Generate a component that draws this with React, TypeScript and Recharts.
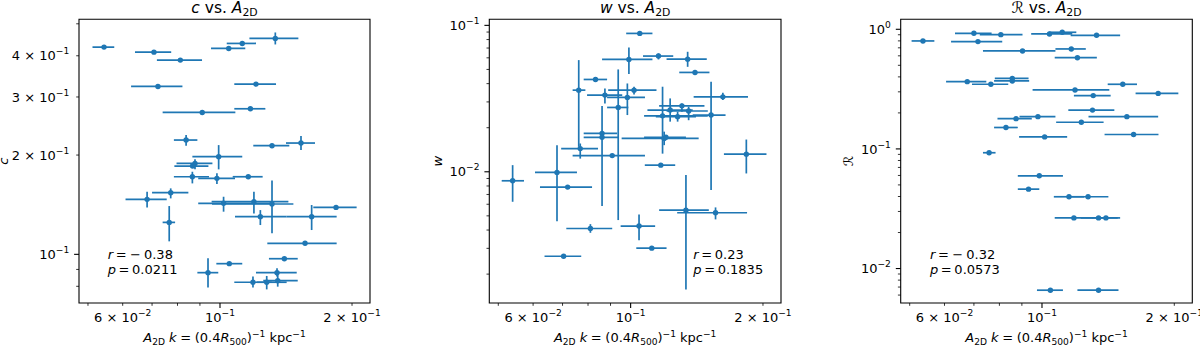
import { ScatterChart, Scatter, XAxis, YAxis, ErrorBar, ReferenceArea } from "recharts";

const BLUE = "#1f77b4";
const FONT = "'DejaVu Sans', sans-serif";

// shared x axis: A2D k, log scale
const xDomain = [0.0477, 0.2198];
const xTicks = [0.05, 0.06, 0.07, 0.08, 0.09, 0.1, 0.2];
const xTickLabels = ["", "6 × 10^−2", "", "", "", "10^−1", "2 × 10^−1"];

// panel 1: c vs A2D
const cX = [0.0544, 0.0707, 0.0812, 0.1047, 0.1124, 0.1337, 0.0722, 0.1208, 0.0911, 0.1173, 0.0837, 0.1314, 0.153, 0.0993, 0.0877, 0.0866, 0.0865, 0.0984, 0.116, 0.0772, 0.0682, 0.1019, 0.1195, 0.1314, 0.0766, 0.1236, 0.1618, 0.1839, 0.1563, 0.1402, 0.105, 0.0939, 0.1349, 0.1189, 0.1278, 0.1354];
const cXLo = [0.0512, 0.064, 0.0718, 0.0954, 0.1036, 0.1167, 0.0627, 0.1078, 0.074, 0.1078, 0.0785, 0.1191, 0.1414, 0.0865, 0.0796, 0.0787, 0.0785, 0.0892, 0.1069, 0.07, 0.0609, 0.0892, 0.0957, 0.0959, 0.074, 0.1082, 0.1419, 0.1632, 0.1282, 0.1293, 0.0981, 0.0888, 0.1208, 0.1078, 0.1212, 0.1255];
const cXHi = [0.0574, 0.0774, 0.091, 0.1142, 0.1208, 0.1509, 0.0821, 0.1342, 0.1084, 0.1269, 0.0888, 0.1439, 0.1647, 0.1124, 0.0961, 0.0941, 0.0944, 0.1082, 0.1251, 0.0847, 0.0756, 0.1323, 0.1432, 0.147, 0.079, 0.1419, 0.1845, 0.2049, 0.1845, 0.1504, 0.1124, 0.0991, 0.1496, 0.1312, 0.1419, 0.1504];
const cY = [0.4249, 0.4103, 0.3881, 0.421, 0.436, 0.4514, 0.3229, 0.3282, 0.2693, 0.2763, 0.2221, 0.2135, 0.2175, 0.1977, 0.1887, 0.1852, 0.1719, 0.17, 0.1719, 0.1538, 0.1468, 0.1428, 0.1444, 0.1421, 0.125, 0.1301, 0.1301, 0.1388, 0.108, 0.097, 0.0937, 0.088, 0.088, 0.0823, 0.0823, 0.0832];
const cYLo = [0.4249, 0.4103, 0.3881, 0.414, 0.436, 0.4329, 0.3229, 0.3282, 0.2693, 0.2763, 0.2135, 0.2135, 0.2071, 0.181, 0.181, 0.1852, 0.1641, 0.1634, 0.1719, 0.1478, 0.1388, 0.1347, 0.1331, 0.1158, 0.1095, 0.1227, 0.1185, 0.1388, 0.108, 0.097, 0.0937, 0.0794, 0.0856, 0.0794, 0.0783, 0.0798];
const cYHi = [0.4249, 0.4103, 0.3881, 0.428, 0.436, 0.4707, 0.3229, 0.3282, 0.2693, 0.2763, 0.2299, 0.2135, 0.2283, 0.2144, 0.1944, 0.1852, 0.178, 0.176, 0.1719, 0.1585, 0.1549, 0.1495, 0.1549, 0.1676, 0.1401, 0.1362, 0.1411, 0.1388, 0.108, 0.097, 0.0937, 0.0973, 0.0907, 0.0856, 0.086, 0.0866];
const cYDomain = [0.0712, 0.516];
const cYTicks = [0.08, 0.09, 0.1, 0.2, 0.3, 0.4, 0.5];
const cYTickLabels = ["", "", "10^−1", "2 × 10^−1", "3 × 10^−1", "4 × 10^−1", ""];

// panel 2: w vs A2D
const wX = [0.1049, 0.1157, 0.0991, 0.1348, 0.1401, 0.0832, 0.0762, 0.1018, 0.0874, 0.0983, 0.0937, 0.1621, 0.1524, 0.1182, 0.123, 0.1308, 0.1279, 0.1355, 0.1192, 0.1203, 0.0861, 0.0861, 0.0768, 0.0908, 0.1171, 0.1833, 0.068, 0.0719, 0.0539, 0.081, 0.1045, 0.1117, 0.0704, 0.1336, 0.156];
const wXLo = [0.0977, 0.1067, 0.0861, 0.1207, 0.129, 0.0782, 0.0738, 0.0889, 0.0796, 0.0884, 0.0884, 0.1391, 0.1384, 0.1073, 0.1092, 0.1161, 0.1141, 0.1207, 0.0954, 0.1073, 0.0782, 0.0782, 0.0695, 0.0738, 0.1077, 0.163, 0.0606, 0.0622, 0.0509, 0.0714, 0.0949, 0.103, 0.0637, 0.1161, 0.1276];
const wXHi = [0.1121, 0.125, 0.1121, 0.149, 0.1511, 0.0884, 0.0789, 0.1145, 0.0957, 0.1078, 0.0988, 0.1849, 0.1644, 0.1498, 0.1384, 0.1472, 0.1408, 0.1498, 0.1428, 0.1336, 0.0932, 0.0937, 0.0843, 0.1078, 0.1263, 0.2037, 0.0755, 0.0817, 0.0572, 0.0908, 0.1137, 0.1207, 0.0772, 0.1506, 0.184];
const wY = [0.0881, 0.0617, 0.0585, 0.0588, 0.0477, 0.0427, 0.0361, 0.0361, 0.0334, 0.0322, 0.0275, 0.0325, 0.0244, 0.0241, 0.0264, 0.0282, 0.0238, 0.026, 0.0169, 0.0172, 0.0183, 0.0172, 0.0144, 0.0129, 0.0111, 0.0132, 0.0099, 0.00786, 0.00868, 0.0041, 0.00426, 0.00301, 0.00265, 0.00547, 0.00525];
const wYLo = [0.0881, 0.0585, 0.0465, 0.0521, 0.0477, 0.0427, 0.0148, 0.0337, 0.0293, 0.0244, 0.00468, 0.0309, 0.0075, 0.0133, 0.022, 0.0257, 0.022, 0.0225, 0.0152, 0.0172, 0.0183, 0.00583, 0.0123, 0.0129, 0.0111, 0.00974, 0.0046, 0.00786, 0.00624, 0.00383, 0.00341, 0.00301, 0.00265, 0.00157, 0.00473];
const wYHi = [0.0881, 0.0643, 0.0707, 0.066, 0.0477, 0.0427, 0.0579, 0.0381, 0.0371, 0.0401, 0.05, 0.0346, 0.0412, 0.0381, 0.0317, 0.0293, 0.0257, 0.0278, 0.0188, 0.0172, 0.0183, 0.0281, 0.0156, 0.0129, 0.0111, 0.0166, 0.0152, 0.00786, 0.0111, 0.00439, 0.00511, 0.00301, 0.00265, 0.00949, 0.00571];
const wYDomain = [0.00127, 0.11];
const wYTicks = [0.002, 0.003, 0.004, 0.005, 0.006, 0.007, 0.008, 0.009, 0.01, 0.02, 0.03, 0.04, 0.05, 0.06, 0.07, 0.08, 0.09, 0.1];
const wYTickLabels = ["", "", "", "", "", "", "", "", "10^−2", "", "", "", "", "", "", "", "", "10^−1"];

// panel 3: R vs A2D (no y errors)
const rX = [0.0536, 0.07, 0.0806, 0.0715, 0.0903, 0.104, 0.1112, 0.1331, 0.1166, 0.1204, 0.0676, 0.0765, 0.0856, 0.0856, 0.1189, 0.1527, 0.1308, 0.1838, 0.1303, 0.0873, 0.0979, 0.156, 0.1229, 0.0828, 0.1014, 0.1616, 0.0758, 0.0986, 0.0932, 0.1152, 0.1273, 0.1182, 0.1345, 0.1398, 0.1045, 0.1345];
const rXLo = [0.0505, 0.0634, 0.0722, 0.0621, 0.0734, 0.0945, 0.1036, 0.1162, 0.1073, 0.1069, 0.0605, 0.0693, 0.0781, 0.0778, 0.0952, 0.1411, 0.1182, 0.1633, 0.1148, 0.0792, 0.0889, 0.1276, 0.1077, 0.0778, 0.0887, 0.1388, 0.0734, 0.0881, 0.0881, 0.1064, 0.1152, 0.1069, 0.1225, 0.1303, 0.0974, 0.1204];
const rXHi = [0.0569, 0.0768, 0.0903, 0.0812, 0.1073, 0.1172, 0.1197, 0.1506, 0.1258, 0.1333, 0.0747, 0.0838, 0.0932, 0.0935, 0.1423, 0.1645, 0.1433, 0.2043, 0.1461, 0.0948, 0.1073, 0.1838, 0.1381, 0.0881, 0.1141, 0.1841, 0.0784, 0.1116, 0.0986, 0.1247, 0.1416, 0.1308, 0.1487, 0.1506, 0.1116, 0.1493];
const rY = [0.799, 0.926, 0.902, 0.789, 0.659, 0.914, 0.944, 0.891, 0.685, 0.579, 0.365, 0.347, 0.389, 0.37, 0.311, 0.347, 0.279, 0.291, 0.211, 0.179, 0.186, 0.186, 0.167, 0.151, 0.126, 0.132, 0.0929, 0.0596, 0.0461, 0.0398, 0.0398, 0.0265, 0.0265, 0.0265, 0.00659, 0.00659];
const rYDomain = [0.00515, 1.212];
const rYTicks = [0.006, 0.007, 0.008, 0.009, 0.01, 0.02, 0.03, 0.04, 0.05, 0.06, 0.07, 0.08, 0.09, 0.1, 0.2, 0.3, 0.4, 0.5, 0.6, 0.7, 0.8, 0.9, 1];
const rYTickLabels = ["", "", "", "", "10^−2", "", "", "", "", "", "", "", "", "10^−1", "", "", "", "", "", "", "", "", "10^0"];

type Row = { x: number; y: number; xErr: number[]; yErr: number[] };

function buildRows(x: number[], xLo: number[], xHi: number[], y: number[], yLo: number[], yHi: number[]): Row[] {
  return x.map((v, i) => ({
    x: v,
    y: y[i],
    xErr: [v - xLo[i], xHi[i] - v],
    yErr: [y[i] - yLo[i], yHi[i] - y[i]],
  }));
}

const isDecade = (v: number) => Math.abs(Math.log10(v) - Math.round(Math.log10(v))) < 1e-6;

function labelFor(ticks: number[], labels: string[], v: number) {
  const i = ticks.findIndex((t) => Math.abs(t - v) / t < 1e-6);
  return i >= 0 ? labels[i] : "";
}

function tickText(label: string) {
  const [base, exp] = label.split("^");
  return (
    <>
      <tspan>{base}</tspan>
      {exp !== undefined && (
        <tspan dy={-6} fontSize={9.1}>
          {exp}
        </tspan>
      )}
    </>
  );
}

function makeXTick(ticks: number[], labels: string[]) {
  return (props: any) => {
    const { x, y, payload } = props;
    const v = payload.value;
    const major = isDecade(v);
    const label = labelFor(ticks, labels, v);
    return (
      <g>
        <line x1={x} x2={x} y1={y} y2={y + (major ? 4.9 : 2.8)} stroke="#000" strokeWidth={major ? 1.1 : 0.8} />
        {label && (
          <text x={x} y={y + 18.5} textAnchor="middle" fontSize={13} fontFamily={FONT} fill="#000">
            {tickText(label)}
          </text>
        )}
      </g>
    );
  };
}

function makeYTick(ticks: number[], labels: string[]) {
  return (props: any) => {
    const { x, y, payload } = props;
    const v = payload.value;
    const major = isDecade(v);
    const label = labelFor(ticks, labels, v);
    return (
      <g>
        <line x1={x} x2={x - (major ? 4.9 : 2.8)} y1={y} y2={y} stroke="#000" strokeWidth={major ? 1.1 : 0.8} />
        {label && (
          <text x={x - 9.8} y={y + 4.6} textAnchor="end" fontSize={13} fontFamily={FONT} fill="#000">
            {tickText(label)}
          </text>
        )}
      </g>
    );
  };
}

type Seg = { t: string; it?: boolean; sh?: number; dx?: number; small?: boolean };

function MathText({ x, y, size, anchor = "start", segs, transform }: { x: number; y: number; size: number; anchor?: string; segs: Seg[]; transform?: string }) {
  let cur = 0;
  return (
    <text x={x} y={y} fontSize={size} textAnchor={anchor as any} fontFamily={FONT} fill="#000" transform={transform}>
      {segs.map((s, i) => {
        const sh = s.sh ?? 0;
        const dy = sh - cur;
        cur = sh;
        return (
          <tspan key={i} dx={s.dx} dy={dy || undefined} fontStyle={s.it ? "italic" : undefined} fontSize={s.small ? size * 0.7 : undefined}>
            {s.t}
          </tspan>
        );
      })}
    </text>
  );
}

const xLabelSegs: Seg[] = [
  { t: "A", it: true },
  { t: "2D", small: true, sh: 2.6 },
  { t: "k", it: true, dx: 4.1 },
  { t: "=", dx: 3.6 },
  { t: "(0.4", dx: 3.6 },
  { t: "R", it: true },
  { t: "500", small: true, sh: 2.6 },
  { t: ")" },
  { t: "−1", small: true, sh: -5.2 },
  { t: "kpc", dx: 4.1 },
  { t: "−1", small: true, sh: -5.2 },
];

function titleSegs(sym: string, italic: boolean): Seg[] {
  return [
    { t: sym, it: italic },
    { t: "vs.", dx: 4.9 },
    { t: "A", it: true, dx: 4.9 },
    { t: "2D", small: true, sh: 3 },
  ];
}

function statSegs(name: string, val: string, neg: boolean): Seg[] {
  const out: Seg[] = [{ t: name, it: true }, { t: "=", dx: 2.6 }];
  if (neg) out.push({ t: "−", dx: 3.5 });
  out.push({ t: val, dx: neg ? 3 : 2.6 });
  return out;
}

type PanelProps = {
  left: number;
  yAxisWidth: number;
  right: number;
  rows: Row[];
  yErr: boolean;
  yDomain: number[];
  yTicks: number[];
  yTickLabels: string[];
  sym: string;
  symItalic: boolean;
  yLabelX: number;
  statX: number;
  r: string;
  rNeg: boolean;
  p: string;
};

const TOP = 19.3;
const XH = 45;
const W = 400;
const H = 348;

function Panel(props: PanelProps) {
  const { left, yAxisWidth, right, rows, yErr, yDomain, yTicks, yTickLabels } = props;
  const plotCx = yAxisWidth + (W - yAxisWidth - right) / 2;
  const plotCy = TOP + (H - TOP - XH) / 2;
  return (
    <div style={{ position: "absolute", left, top: 0, width: W, height: H }}>
      <ScatterChart width={W} height={H} margin={{ top: TOP, right, bottom: 0, left: 0 }}>
        <XAxis
          dataKey="x"
          type="number"
          scale="log"
          domain={xDomain}
          allowDataOverflow
          ticks={xTicks}
          interval={0}
          tick={makeXTick(xTicks, xTickLabels)}
          tickLine={false}
          axisLine={false}
          tickSize={0}
          tickMargin={0}
          height={XH}
        />
        <YAxis
          dataKey="y"
          type="number"
          scale="log"
          domain={yDomain}
          allowDataOverflow
          ticks={yTicks}
          interval={0}
          tick={makeYTick(yTicks, yTickLabels)}
          tickLine={false}
          axisLine={false}
          tickSize={0}
          tickMargin={0}
          width={yAxisWidth}
        />
        <Scatter
          data={rows}
          isAnimationActive={false}
          shape={(p: any) => <circle cx={p.cx} cy={p.cy} r={2.7} fill={BLUE} />}
        >
          <ErrorBar dataKey="xErr" direction="x" width={0} stroke={BLUE} strokeWidth={1.7} isAnimationActive={false} />
          {yErr && <ErrorBar dataKey="yErr" direction="y" width={0} stroke={BLUE} strokeWidth={1.7} isAnimationActive={false} />}
        </Scatter>
        <ReferenceArea
          x1={xDomain[0]}
          x2={xDomain[1]}
          y1={yDomain[0]}
          y2={yDomain[1]}
          fill="none"
          fillOpacity={0}
          stroke="#000"
          strokeWidth={1.1}
          ifOverflow="visible"
        />
      </ScatterChart>
      <svg width={W} height={H} style={{ position: "absolute", left: 0, top: 0, overflow: "visible", pointerEvents: "none" }}>
        <MathText x={plotCx} y={12.8} size={15.5} anchor="middle" segs={titleSegs(props.sym, props.symItalic)} />
        <MathText x={plotCx} y={342} size={13} anchor="middle" segs={xLabelSegs} />
        <MathText
          x={props.yLabelX}
          y={plotCy}
          size={13}
          anchor="middle"
          segs={[{ t: props.sym, it: props.symItalic }]}
          transform={`rotate(-90 ${props.yLabelX} ${plotCy})`}
        />
        <MathText x={props.statX} y={259} size={13} segs={statSegs("r", props.r, props.rNeg)} />
        <MathText x={props.statX} y={274} size={13} segs={statSegs("p", props.p, false)} />
      </svg>
    </div>
  );
}

export default function App() {
  const cRows = buildRows(cX, cXLo, cXHi, cY, cYLo, cYHi);
  const wRows = buildRows(wX, wXLo, wXHi, wY, wYLo, wYHi);
  const rRows = buildRows(rX, rXLo, rXHi, rY, rY, rY);
  return (
    <div style={{ position: "absolute", left: 0, top: 0, width: 1200, height: 348, background: "#fff" }}>
      <Panel
        left={0}
        yAxisWidth={79}
        right={30}
        rows={cRows}
        yErr
        yDomain={cYDomain}
        yTicks={cYTicks}
        yTickLabels={cYTickLabels}
        sym="c"
        symItalic
        yLabelX={8}
        statX={107.7}
        r="0.38"
        rNeg
        p="0.0211"
      />
      <Panel
        left={400}
        yAxisWidth={89.3}
        right={19}
        rows={wRows}
        yErr
        yDomain={wYDomain}
        yTicks={wYTicks}
        yTickLabels={wYTickLabels}
        sym="w"
        symItalic
        yLabelX={42.5}
        statX={293.3}
        r="0.23"
        rNeg={false}
        p="0.1835"
      />
      <Panel
        left={800}
        yAxisWidth={100.7}
        right={7.7}
        rows={rRows}
        yErr={false}
        yDomain={rYDomain}
        yTicks={rYTicks}
        yTickLabels={rYTickLabels}
        sym="ℛ"
        symItalic={false}
        yLabelX={53.5}
        statX={130}
        r="0.32"
        rNeg
        p="0.0573"
      />
    </div>
  );
}
